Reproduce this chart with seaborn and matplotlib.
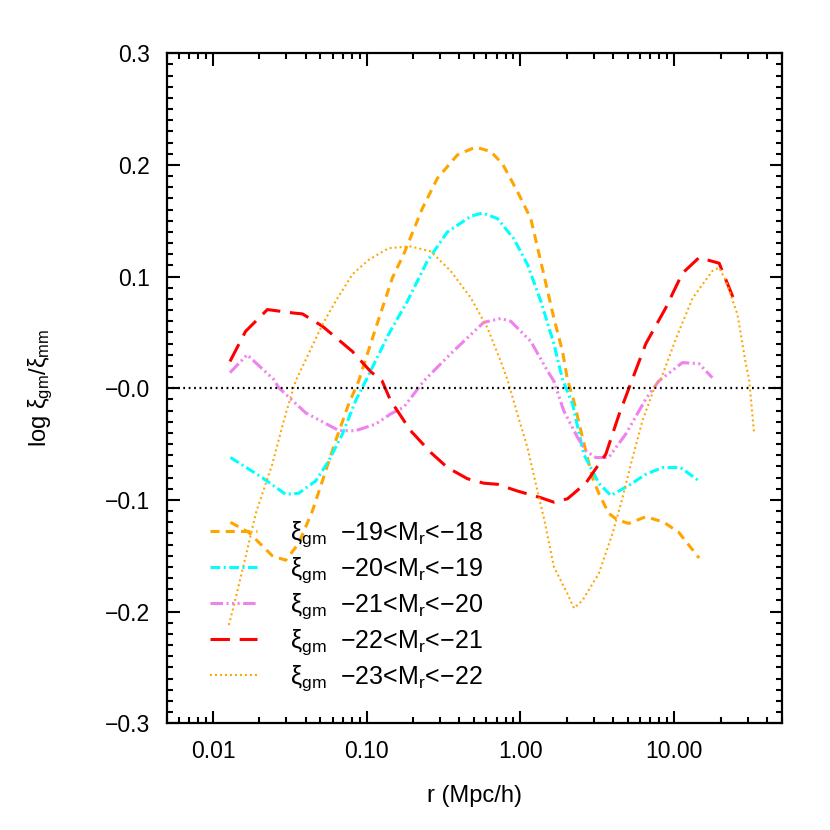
import matplotlib
matplotlib.use("Agg")
import matplotlib.pyplot as plt
import matplotlib.ticker as mticker
import pandas as pd
import seaborn as sns

# ---- data (r in Mpc/h, log xi_gm/xi_mm) ----
r_m19 = [0.0130, 0.0171, 0.0243, 0.0297, 0.0361, 0.0443, 0.0515, 0.0628, 0.0764, 0.0887,
         0.1145, 0.147, 0.174, 0.230, 0.288, 0.389, 0.511, 0.641, 0.764, 0.957, 1.167,
         1.418, 1.648, 1.877, 2.02, 2.22, 2.53, 2.94, 3.23, 3.75, 4.28, 5.07, 6.54, 8.56,
         10.7, 14.5]
v_m19 = [-0.120, -0.129, -0.150, -0.154, -0.139, -0.110, -0.083, -0.047, -0.014, 0.0065,
         0.054, 0.099, 0.120, 0.161, 0.188, 0.209, 0.216, 0.212, 0.201, 0.176, 0.152,
         0.102, 0.063, 0.033, 0.008, -0.011, -0.044, -0.080, -0.094, -0.112, -0.118,
         -0.121, -0.115, -0.120, -0.129, -0.152]

r_m20 = [0.0130, 0.0209, 0.0297, 0.0361, 0.0466, 0.0566, 0.0695, 0.0848, 0.0984, 0.139,
         0.184, 0.248, 0.335, 0.475, 0.566, 0.708, 0.904, 1.11, 1.356, 1.648, 1.877,
         2.18, 2.58, 3.23, 3.87, 5.07, 6.54, 8.39, 11.0, 14.5]
v_m20 = [-0.062, -0.080, -0.095, -0.094, -0.083, -0.065, -0.041, -0.011, 0.0065, 0.0485,
         0.078, 0.114, 0.140, 0.154, 0.157, 0.152, 0.134, 0.111, 0.078, 0.040, 0.008,
         -0.014, -0.059, -0.085, -0.096, -0.087, -0.077, -0.071, -0.071, -0.083]

r_m21 = [0.0129, 0.0167, 0.0248, 0.0268, 0.0401, 0.0661, 0.0848, 0.1146, 0.143, 0.174,
         0.235, 0.352, 0.577, 0.745, 0.865, 1.167, 1.50, 1.648, 1.91, 2.35, 2.66, 3.09,
         3.75, 4.84, 6.54, 7.94, 11.3, 14.5, 17.7]
v_m21 = [0.014, 0.030, 0.008, 0.0005, -0.022, -0.038, -0.038, -0.032, -0.023, -0.017,
         0.0065, 0.031, 0.059, 0.0625, 0.060, 0.042, 0.0155, 0.0065, -0.020, -0.044,
         -0.056, -0.062, -0.062, -0.041, -0.0095, 0.0065, 0.023, 0.022, 0.0095]

r_m22 = [0.0129, 0.0163, 0.0226, 0.0329, 0.0382, 0.0515, 0.0807, 0.106, 0.126, 0.143,
         0.193, 0.261, 0.335, 0.452, 0.577, 0.708, 0.955, 1.356, 1.648, 2.02, 2.66, 3.59,
         4.39, 5.09, 6.54, 8.81, 11.3, 14.5, 19.6, 25.2]
v_m22 = [0.024, 0.051, 0.0705, 0.0675, 0.0666, 0.0556, 0.033, 0.015, 0.0065, -0.011,
         -0.038, -0.0575, -0.071, -0.081, -0.085, -0.086, -0.092, -0.098, -0.102, -0.099,
         -0.085, -0.059, -0.023, 0.0005, 0.040, 0.072, 0.103, 0.117, 0.112, 0.075]

r_m23 = [0.0127, 0.0141, 0.0163, 0.0190, 0.0243, 0.0297, 0.0345, 0.0515, 0.0628, 0.0807,
         0.103, 0.139, 0.193, 0.261, 0.352, 0.475, 0.610, 0.745, 0.822, 0.955, 1.11,
         1.29, 1.43, 1.65, 2.02, 2.23, 2.53, 2.66, 3.23, 3.97, 4.61, 5.36, 6.22, 7.59,
         8.18, 10.3, 13.2, 17.7, 19.6, 21.7, 25.8, 29.2, 30.7, 33.1]
v_m23 = [-0.212, -0.187, -0.151, -0.112, -0.068, -0.023, 0.0065, 0.057, 0.078, 0.102,
         0.115, 0.1255, 0.127, 0.1226, 0.105, 0.081, 0.054, 0.024, 0.008, -0.023, -0.053,
         -0.092, -0.118, -0.160, -0.184, -0.197, -0.190, -0.185, -0.166, -0.130, -0.098,
         -0.062, -0.029, 0.004, 0.008, 0.045, 0.081, 0.105, 0.108, 0.096, 0.066, 0.022,
         0.008, -0.041]

labels = [
    r"ξ$_{\mathrm{gm}}$  −19<M$_{\mathrm{r}}$<−18",
    r"ξ$_{\mathrm{gm}}$  −20<M$_{\mathrm{r}}$<−19",
    r"ξ$_{\mathrm{gm}}$  −21<M$_{\mathrm{r}}$<−20",
    r"ξ$_{\mathrm{gm}}$  −22<M$_{\mathrm{r}}$<−21",
    r"ξ$_{\mathrm{gm}}$  −23<M$_{\mathrm{r}}$<−22",
]
x_ticks = [0.01, 0.1, 1.0, 10.0]
x_tick_labels = ["0.01", "0.10", "1.00", "10.00"]
y_ticks = [-0.3, -0.2, -0.1, 0.0, 0.1, 0.2, 0.3]
y_tick_labels = ["−0.3", "−0.2", "−0.1", "−0.0", "0.1", "0.2", "0.3"]

sns.set_style("ticks")
plt.rcParams["font.family"] = ["Liberation Sans", "DejaVu Sans"]
plt.rcParams["mathtext.fontset"] = "custom"
plt.rcParams["mathtext.rm"] = "Liberation Sans"
plt.rcParams["mathtext.it"] = "Liberation Sans:italic"
plt.rcParams["lines.scale_dashes"] = False
plt.rcParams["text.color"] = "black"
plt.rcParams["axes.labelcolor"] = "black"

curves = [
    (r_m19, v_m19, "#FFA500", (0, (6.5, 4.5)), 2.2),
    (r_m20, v_m20, "#00FFFF", (0, (7, 2.5, 1.5, 2.5)), 2.2),
    (r_m21, v_m21, "#EE82EE", (0, (9, 2.5, 1.5, 2.5, 1.5, 2.5, 1.5, 2.5)), 2.2),
    (r_m22, v_m22, "#FF0000", (0, (14, 7)), 2.2),
    (r_m23, v_m23, "#FFA500", (0, (1.4, 2.2)), 1.5),
]

fig = plt.figure(figsize=(8.3, 8.3), dpi=100)
ax = fig.add_axes([0.2008, 0.1286, 0.741, 0.8072])

for (rr, vv, col, ls, lw), lab in zip(curves, labels):
    df = pd.DataFrame({"r": rr, "v": vv})
    sns.lineplot(data=df, x="r", y="v", color=col, linestyle=ls, linewidth=lw,
                 label=lab, sort=False, estimator=None, ax=ax)

ax.axhline(0, color="black", linestyle=(0, (1.3, 2.6)), linewidth=1.6)

ax.set_xscale("log")
ax.set_xlim(0.005, 50)
ax.set_ylim(-0.3, 0.3)
ax.set_xticks(x_ticks)
ax.set_xticklabels(x_tick_labels)
ax.set_yticks(y_ticks)
ax.set_yticklabels(y_tick_labels)
ax.yaxis.set_minor_locator(mticker.MultipleLocator(0.01))
ax.xaxis.set_minor_locator(mticker.LogLocator(base=10, subs=range(2, 10), numticks=20))
ax.xaxis.set_minor_formatter(mticker.NullFormatter())

ax.tick_params(which="both", direction="in", top=True, right=True, width=1.5,
               colors="black", labelsize=16.5)
ax.tick_params(which="major", length=9, pad=12)
ax.tick_params(which="minor", length=4.5)
for sp in ax.spines.values():
    sp.set_linewidth(1.6)
    sp.set_color("black")

ax.set_xlabel("r (Mpc/h)", fontsize=17, labelpad=16)
ax.set_ylabel(r"log ξ$_{\mathrm{gm}}$/ξ$_{\mathrm{mm}}$", fontsize=17, labelpad=36)

ax.legend(loc="lower left", bbox_to_anchor=(0.07, 0.045), frameon=False, fontsize=18,
          handlelength=1.9, handletextpad=1.3, labelspacing=0.25, borderpad=0,
          borderaxespad=0)

fig.savefig("out.png", dpi=100)
